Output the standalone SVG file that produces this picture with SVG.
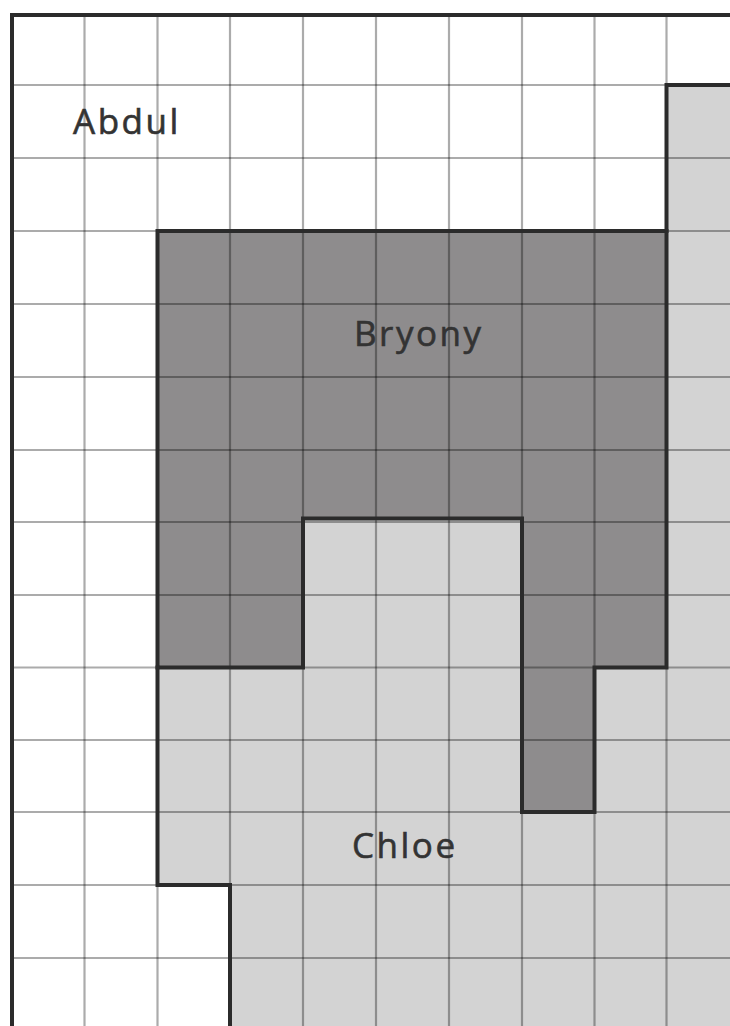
<svg xmlns="http://www.w3.org/2000/svg" width="730" height="1026" viewBox="0 0 730 1026">
<style>
.grid{stroke:#000000;stroke-opacity:0.33;stroke-width:2.2;fill:none}
.edge{stroke:#2b2b2b;stroke-width:4;fill:none;stroke-linejoin:miter;stroke-linecap:square}
.lbl{font-family:"Open Sans","Noto Sans","Liberation Sans",sans-serif;font-size:35px;fill:#333;letter-spacing:2.5px;stroke:#333;stroke-width:0.6}
</style>
<rect x="0" y="0" width="730" height="1026" fill="#ffffff"/>
<g id="chloe">
<polygon points="666.5,85 740,85 740,1031 230,1031 230,885 157.5,885 157.5,231 666.5,231" fill="#d3d3d3"/>
</g>
<g id="bryony">
<polygon points="157.5,231 666.5,231 666.5,667.5 594.5,667.5 594.5,812 522,812 522,518.5 303,518.5 303,667.5 157.5,667.5" fill="#8e8c8d"/>
</g>
<g id="grid" class="grid">
<line x1="84.5" y1="15" x2="84.5" y2="1026"/>
<line x1="157.5" y1="15" x2="157.5" y2="1026"/>
<line x1="230" y1="15" x2="230" y2="1026"/>
<line x1="303" y1="15" x2="303" y2="1026"/>
<line x1="376" y1="15" x2="376" y2="1026"/>
<line x1="449" y1="15" x2="449" y2="1026"/>
<line x1="522" y1="15" x2="522" y2="1026"/>
<line x1="594.5" y1="15" x2="594.5" y2="1026"/>
<line x1="666.5" y1="15" x2="666.5" y2="1026"/>
<line x1="12" y1="85" x2="730" y2="85"/>
<line x1="12" y1="158" x2="730" y2="158"/>
<line x1="12" y1="231" x2="730" y2="231"/>
<line x1="12" y1="304" x2="730" y2="304"/>
<line x1="12" y1="377" x2="730" y2="377"/>
<line x1="12" y1="450" x2="730" y2="450"/>
<line x1="12" y1="522" x2="730" y2="522"/>
<line x1="12" y1="595" x2="730" y2="595"/>
<line x1="12" y1="667.5" x2="730" y2="667.5"/>
<line x1="12" y1="740" x2="730" y2="740"/>
<line x1="12" y1="812" x2="730" y2="812"/>
<line x1="12" y1="885" x2="730" y2="885"/>
<line x1="12" y1="958" x2="730" y2="958"/>
</g>
<g id="outlines" class="edge">
<polyline points="735,15 12,15 12,1030"/>
<polyline points="735,85 666.5,85 666.5,231"/>
<polygon points="157.5,231 666.5,231 666.5,667.5 594.5,667.5 594.5,812 522,812 522,518.5 303,518.5 303,667.5 157.5,667.5"/>
<polyline points="157.5,667.5 157.5,885 230,885 230,1030"/>
</g>
<g id="labels">
<text id="abdul" class="lbl" x="73" y="134">Abdul</text>
<text id="bryony-label" class="lbl" x="354" y="346">Bryony</text>
<text id="chloe-label" class="lbl" x="352" y="858">Chloe</text>
</g>
</svg>
